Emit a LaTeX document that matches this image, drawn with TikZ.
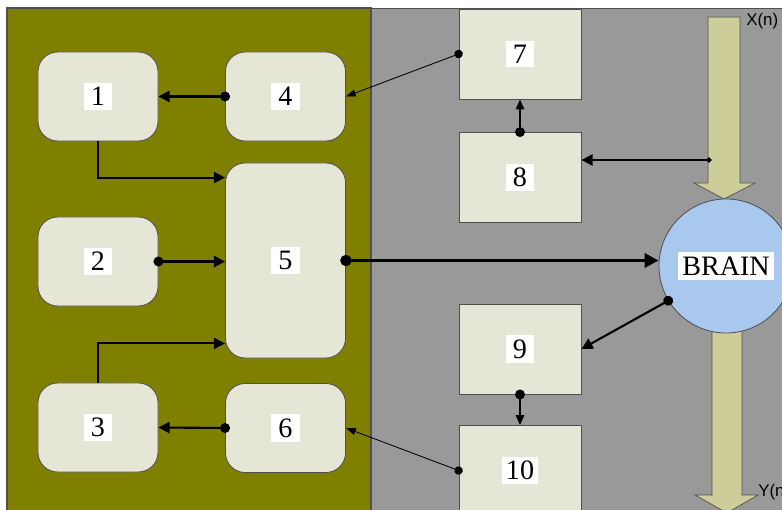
\documentclass[tikz,border=0pt]{standalone}
\usepackage{fontspec}
\setmainfont{Liberation Serif}
\newfontfamily\iosans{Liberation Sans}
\usetikzlibrary{arrows.meta,calc}

\definecolor{olivebg}{RGB}{128,128,0}
\definecolor{greybg}{RGB}{153,153,153}
\definecolor{boxfill}{RGB}{230,230,215}
\definecolor{brainblue}{RGB}{168,200,238}
\definecolor{flowfill}{RGB}{205,205,154}
\definecolor{edgegrey}{RGB}{80,80,80}

\begin{document}
\begin{tikzpicture}[
  x=0.025cm, y=-0.025cm,
  rbox/.style={draw=edgegrey,line width=0.6pt,fill=boxfill,rounded corners=14pt,
    minimum width=3cm,minimum height=2.225cm},
  sbox/.style={draw=edgegrey,line width=0.6pt,fill=boxfill,
    minimum width=3.05cm,minimum height=2.25cm},
  num/.style={fill=white,inner sep=3pt,minimum width=20pt,font=\fontsize{20}{24}\selectfont},
  flow/.style={draw=edgegrey,line width=0.5pt,fill=flowfill},
  io/.style={font=\iosans\fontsize{12}{14}\selectfont,inner sep=0pt},
  link/.style={line width=1.5pt,{Circle[length=7pt]}-{Triangle[length=8pt,width=8pt]},shorten <=-3.5pt},
  elbow/.style={line width=1.4pt,-{Triangle[length=8pt,width=8pt]}},
  bus/.style={line width=2.6pt,{Circle[length=8pt]}-{Triangle[length=10pt,width=10pt]},shorten <=-4pt},
  thinlink/.style={line width=0.6pt,{Circle[length=6pt]}-{Triangle[length=7pt,width=5pt]},shorten <=-3pt},
  midlink/.style={line width=1pt,{Circle[length=7pt]}-{Triangle[length=7pt,width=6pt]},shorten <=-3.5pt},
  feed/.style={line width=1.4pt,{Circle[length=3.5pt]}-{Triangle[length=8pt,width=8pt]},shorten <=-1.75pt}
]
\clip (0,0) rectangle (782,510);

% backgrounds
\fill[white] (0,0) rectangle (782,510);
\draw[fill=olivebg,draw=edgegrey,line width=0.8pt] (7,8) rectangle (371,520);
\draw[fill=greybg,draw=edgegrey,line width=0.6pt] (371,8) rectangle (790,520);

% input and output flows
\draw[flow] (708,17) -- (740,17) -- (740,183) -- (755,183) -- (724,199)
  -- (694,183) -- (708,183) -- cycle;
\draw[flow] (712,320) -- (742,320) -- (742,495) -- (758,495) -- (727,513)
  -- (695,495) -- (712,495) -- cycle;
\node[io,anchor=west] (xlab) at (746,21) {X(n)};
\node[io,anchor=west] (ylab) at (758,492) {Y(n)};

\node[draw=edgegrey,line width=0.6pt,fill=brainblue,circle,minimum size=3.35cm,inner sep=0pt]
  (brain) at (726,266) {};
\node[fill=white,inner sep=3pt,font=\fontsize{20}{23}\selectfont] at (brain) {BRAIN};

% left part
\node[rbox] (n1) at (98,96.5) {};
\node[rbox] (n4) at (285.5,96.5) {};
\node[rbox] (n2) at (98,261.5) {};
\node[rbox,minimum height=4.875cm] (n5) at (285.5,260.5) {};
\node[rbox] (n3) at (98,427.5) {};
\node[rbox] (n6) at (285.5,428) {};

% right part
\node[sbox] (n7) at (520,54) {};
\node[sbox] (n8) at (520,177.5) {};
\node[sbox] (n9) at (520,349) {};
\node[sbox] (n10) at (520,470.5) {};

\foreach \n in {1,...,10}
  \node[num] at (n\n) {\n};

\draw[link] (n4.west) -- (n1.east);
\draw[elbow] (n1.south) |- ($(n5.north west)+(0,15)$);
\draw[link] (n2.east) -- (n2.east -| n5.west);
\draw[elbow] (n3.north) |- ($(n5.south west)+(0,-15)$);
\draw[link] (n6.west) -- (n3.east);
\draw[bus] (n5.east) -- (n5.east -| brain.west);

\draw[thinlink] (n7.west) -- (n4.east);
\draw[midlink] (n8.north) -- (n7.south);
\coordinate (xin) at (709,160);
\draw[feed] (xin) -- (xin -| n8.east);
\draw[link] (brain.211) -- (n9.east);
\draw[midlink] (n9.south) -- (n10.north);
\draw[thinlink] (n10.west) -- (n6.east);

\end{tikzpicture}
\end{document}
